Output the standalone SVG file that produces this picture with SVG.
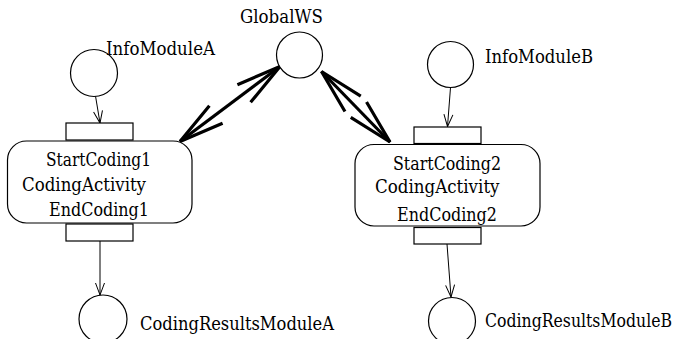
<svg xmlns="http://www.w3.org/2000/svg" width="678" height="339" viewBox="0 0 678 339">
<style>
.node{fill:#fff;stroke:#000;stroke-width:1.2}
.port{fill:#fff;stroke:#000;stroke-width:1.2}
.thin{stroke:#000;stroke-width:1;fill:none}
.thick{stroke:#000;stroke-width:3.2;fill:none}
text{font-family:"DejaVu Serif","Liberation Serif",serif;font-size:18px;fill:#000}
</style>
<defs>
<marker id="v" markerUnits="userSpaceOnUse" markerWidth="30" markerHeight="30" refX="0" refY="0" viewBox="-15 -15 30 30" orient="auto" overflow="visible">
<path d="M-12,-4.5 L0,0 L-12,4.5" fill="none" stroke="#000" stroke-width="1"/>
</marker>
<marker id="V" markerUnits="userSpaceOnUse" markerWidth="100" markerHeight="100" refX="0" refY="0" viewBox="-50 -50 100 100" orient="auto-start-reverse" overflow="visible">
<path d="M-45,-11 L0,0 L-45,11" fill="none" stroke="#000" stroke-width="3.2"/>
</marker>
</defs>
<rect width="678" height="339" fill="#fff"/>
<g id="connectors">
<line class="thin" x1="95.5" y1="96" x2="100" y2="123" marker-end="url(#v)"/>
<line class="thin" x1="100" y1="241" x2="100" y2="295" marker-end="url(#v)"/>
<line class="thin" x1="450.5" y1="87.5" x2="447.5" y2="126.5" marker-end="url(#v)"/>
<line class="thin" x1="447" y1="244" x2="451" y2="297" marker-end="url(#v)"/>
<line class="thick" x1="180" y1="141.5" x2="280" y2="66.5" marker-start="url(#V)" marker-end="url(#V)"/>
<line class="thick" x1="390" y1="142" x2="321.5" y2="71.5" marker-start="url(#V)" marker-end="url(#V)"/>
</g>
<g id="GlobalWS">
<circle class="node" cx="299.5" cy="55" r="23"/>
<text x="240" y="23" textLength="83" lengthAdjust="spacingAndGlyphs">GlobalWS</text>
</g>
<g id="InfoModuleA">
<circle class="node" cx="94" cy="73" r="23.5"/>
<text x="106" y="55" textLength="109" lengthAdjust="spacingAndGlyphs">InfoModuleA</text>
</g>
<g id="CodingActivity1">
<rect class="port" x="66" y="123" width="67" height="17"/>
<rect class="node" x="7.5" y="141" width="184.5" height="82" rx="19" ry="19"/>
<rect class="port" x="66" y="224" width="67" height="17"/>
<text x="46" y="166" textLength="105" lengthAdjust="spacingAndGlyphs">StartCoding1</text>
<text x="22" y="191" textLength="124" lengthAdjust="spacingAndGlyphs">CodingActivity</text>
<text x="49" y="215.5" textLength="100" lengthAdjust="spacingAndGlyphs">EndCoding1</text>
</g>
<g id="CodingResultsModuleA">
<circle class="node" cx="103" cy="319" r="24"/>
<text x="140" y="330" textLength="194" lengthAdjust="spacingAndGlyphs">CodingResultsModuleA</text>
</g>
<g id="InfoModuleB">
<circle class="node" cx="450.5" cy="64.5" r="23"/>
<text x="485" y="63" textLength="108" lengthAdjust="spacingAndGlyphs">InfoModuleB</text>
</g>
<g id="CodingActivity2">
<rect class="port" x="414" y="127" width="67" height="16.5"/>
<rect class="node" x="355" y="144.5" width="185" height="81.5" rx="19" ry="19"/>
<rect class="port" x="414" y="227.5" width="67" height="16.5"/>
<text x="393" y="170" textLength="108" lengthAdjust="spacingAndGlyphs">StartCoding2</text>
<text x="375" y="193" textLength="124.5" lengthAdjust="spacingAndGlyphs">CodingActivity</text>
<text x="397" y="220.5" textLength="100" lengthAdjust="spacingAndGlyphs">EndCoding2</text>
</g>
<g id="CodingResultsModuleB">
<circle class="node" cx="452" cy="321" r="23.5"/>
<text x="485" y="326.5" textLength="187" lengthAdjust="spacingAndGlyphs">CodingResultsModuleB</text>
</g>
</svg>
